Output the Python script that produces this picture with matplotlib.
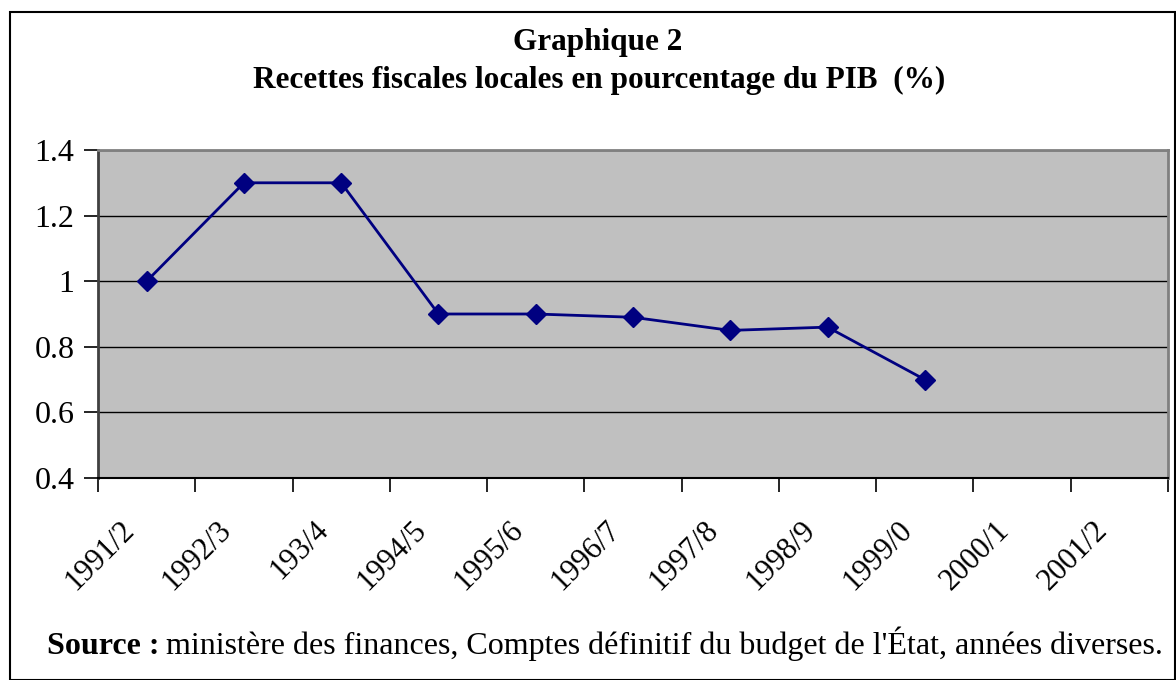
import matplotlib.pyplot as plt
import matplotlib.transforms as mtransforms
from matplotlib.patches import Rectangle

# categories and values
annees = ['1991/2', '1992/3', '193/4', '1994/5', '1995/6', '1996/7',
          '1997/8', '1998/9', '1999/0', '2000/1', '2001/2']
recettes = [1.0, 1.3, 1.3, 0.9, 0.9, 0.89, 0.85, 0.86, 0.7]

plt.rcParams['font.family'] = ['Liberation Serif', 'DejaVu Serif']

fig = plt.figure(figsize=(11.76, 6.8), dpi=100)
W, H = 1176, 680

# outer frame around the whole chart
fig.patches.append(Rectangle((10 / W, 0), (W - 11) / W, (H - 12) / H,
                             transform=fig.transFigure, fill=False,
                             edgecolor='black', linewidth=1.5))

# plot area in pixel terms
left, right, top, bottom = 98, 1168, 150, 478
ax = fig.add_axes([left / W, 1 - bottom / H, (right - left) / W, (bottom - top) / H])
ax.set_facecolor('#c0c0c0')

x = list(range(len(recettes)))
ax.plot(x, recettes, color='#000080', linewidth=2, marker='D', markersize=10,
        markerfacecolor='#000080', markeredgecolor='#000080')

ax.set_xlim(-0.5, len(annees) - 0.5)
ax.set_ylim(0.4, 1.4)
ax.set_yticks([0.4, 0.6, 0.8, 1.0, 1.2, 1.4])
ax.set_yticklabels(['0.4', '0.6', '0.8', '1', '1.2', '1.4'])
ax.grid(axis='y', color='black', linewidth=1)
ax.set_axisbelow(True)

# ticks on category boundaries, labels centred in each category
ax.set_xticks([i - 0.5 for i in range(len(annees) + 1)])
ax.set_xticklabels([])
ax.set_xticks(range(len(annees)), minor=True)
ax.set_xticklabels(annees, minor=True, rotation=45, ha='right', va='top',
                   rotation_mode='anchor', fontsize=22)
ax.tick_params(axis='x', which='minor', length=0, pad=27)
ax.tick_params(axis='x', which='major', length=10, width=1.2, color='black')
ax.tick_params(axis='y', length=10, width=1.2, labelsize=23, pad=7)

# shift rotated labels so their upper end sits just left of the category centre
shift = mtransforms.ScaledTranslation(-27 / 100, 0, fig.dpi_scale_trans)
for lab in ax.get_xticklabels(minor=True):
    lab.set_transform(lab.get_transform() + shift)

for side in ['top', 'right', 'left']:
    ax.spines[side].set_color('#808080')
    ax.spines[side].set_linewidth(2)
ax.spines['left'].set_color('#404040')
ax.spines['bottom'].set_color('black')
ax.spines['bottom'].set_linewidth(1.5)

fig.text(598 / W, 1 - 50 / H, 'Graphique 2', ha='center', va='baseline',
         fontsize=22.5, fontweight='bold')
fig.text(599 / W, 1 - 88 / H, 'Recettes fiscales locales en pourcentage du PIB  (%)',
         ha='center', va='baseline', fontsize=22.5, fontweight='bold')

src = fig.text(47 / W, 1 - 654 / H, 'Source :', ha='left', va='baseline',
               fontsize=23, fontweight='bold')
fig.canvas.draw()
bb = src.get_window_extent()
fig.text(bb.x1 / W + 6 / W, 1 - 654 / H,
         "ministère des finances, Comptes définitif du budget de l'État, années diverses.",
         ha='left', va='baseline', fontsize=23)

fig.savefig('out.png', dpi=100)
